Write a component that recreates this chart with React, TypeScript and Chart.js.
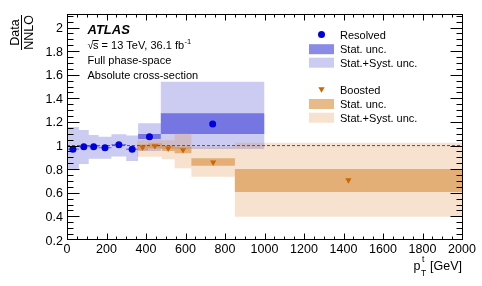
import React, { useEffect, useRef } from "react";
import { Chart, registerables } from "chart.js";

Chart.register(...registerables);

// ---- Data (ratio Data / NNLO) ----
const resolvedBinEdges = [0, 60, 110, 160, 225, 300, 360, 475, 1000];
const resolvedRatio = [0.97, 0.991, 0.991, 0.982, 1.008, 0.969, 1.075, 1.183];
const resolvedStatUp = [0.976, 0.996, 0.996, 0.987, 1.013, 0.975, 1.098, 1.274];
const resolvedStatDown = [0.964, 0.986, 0.986, 0.977, 1.003, 0.963, 1.056, 1.098];
const resolvedTotUp = [1.157, 1.132, 1.09, 1.075, 1.096, 1.085, 1.189, 1.541];
const resolvedTotDown = [0.8, 0.845, 0.888, 0.888, 0.908, 0.87, 0.955, 0.971];

const boostedBinEdges = [355, 410, 480, 545, 630, 850, 2000];
const boostedRatio = [0.985, 0.997, 0.977, 0.963, 0.858, 0.708];
const boostedStatUp = [1.01, 1.02, 1.0, 0.99, 0.892, 0.802];
const boostedStatDown = [0.96, 0.975, 0.955, 0.935, 0.83, 0.607];
const boostedTotUp = [1.045, 1.05, 1.045, 1.104, 0.99, 1.025];
const boostedTotDown = [0.906, 0.906, 0.884, 0.807, 0.737, 0.398];

const referenceLine = [
  { x: 0, y: 1 },
  { x: 2000, y: 1 },
];

const xTickValues = [0, 200, 400, 600, 800, 1000, 1200, 1400, 1600, 1800, 2000];
const xTickLabels = ["0", "200", "400", "600", "800", "1000", "1200", "1400", "1600", "1800", "2000"];
const yTickValues = [0.2, 0.4, 0.6, 0.8, 1.0, 1.2, 1.4, 1.6, 1.8, 2.0];
const yTickLabels = ["0.2", "0.4", "0.6", "0.8", "1", "1.2", "1.4", "1.6", "1.8", "2"];

const legendLabels = ["Resolved", "Stat. unc.", "Stat.+Syst. unc.", "Boosted", "Stat. unc.", "Stat.+Syst. unc."];

// ---- Styles ----
const FONT = '"Liberation Sans", Arial, Helvetica, sans-serif';
const RES_MARK = "#0000dd";
const RES_STAT = "rgba(60,60,215,0.6)";
const RES_TOT = "rgba(100,100,220,0.33)";
const BOO_MARK = "#cc6600";
const BOO_STAT = "rgba(215,140,60,0.6)";
const BOO_TOT = "rgba(220,140,60,0.25)";

function stepPoints(edges: number[], vals: number[]) {
  const pts = vals.map((v, i) => ({ x: edges[i], y: v }));
  pts.push({ x: edges[edges.length - 1], y: vals[vals.length - 1] });
  return pts;
}
function centerPoints(edges: number[], vals: number[]) {
  return vals.map((v, i) => ({ x: (edges[i] + edges[i + 1]) / 2, y: v }));
}

function band(data: any, fill: any, color: string, order: number) {
  return {
    type: "line",
    data,
    stepped: true,
    borderColor: "transparent",
    borderWidth: 0,
    pointRadius: 0,
    fill,
    backgroundColor: color,
    order,
  };
}

const decorPlugin = {
  id: "atlasDecor",
  afterDraw(chart: any) {
    const ctx = chart.ctx as CanvasRenderingContext2D;
    const xs = chart.scales.x;
    const ys = chart.scales.y;
    const { left, right, top, bottom } = chart.chartArea;
    const L = Math.round(left) + 0.5;
    const R = Math.round(right) + 0.5;
    const T = Math.round(top) + 0.5;
    const B = Math.round(bottom) - 0.5;
    ctx.save();
    ctx.strokeStyle = "#000";
    ctx.lineWidth = 1;
    ctx.beginPath();
    // x ticks
    for (let v = 0; v <= 2000 + 1e-6; v += 50) {
      const major = Math.abs(v % 200) < 1e-6;
      const len = major ? 6 : 3;
      const px = Math.round(xs.getPixelForValue(v)) + 0.5;
      ctx.moveTo(px, B);
      ctx.lineTo(px, B - len);
      ctx.moveTo(px, T);
      ctx.lineTo(px, T + len);
    }
    // y ticks
    for (let i = 1; i <= 38; i++) {
      const v = 0.2 + i * 0.05;
      const major = i % 4 === 0;
      const len = major ? 12 : 6;
      const py = Math.round(ys.getPixelForValue(v)) + 0.5;
      if (py >= B - 0.5 || py <= T + 0.5) continue;
      ctx.moveTo(L, py);
      ctx.lineTo(L + len, py);
      ctx.moveTo(R, py);
      ctx.lineTo(R - len, py);
    }
    ctx.stroke();
    ctx.strokeRect(L, T, R - L, B - T);

    // tick labels
    ctx.fillStyle = "#000";
    ctx.font = `12.5px ${FONT}`;
    ctx.textAlign = "right";
    ctx.textBaseline = "alphabetic";
    yTickValues.forEach((v, i) => {
      const py = ys.getPixelForValue(v);
      ctx.fillText(yTickLabels[i], 63, py + 4.5);
    });
    ctx.textAlign = "center";
    xTickValues.forEach((v, i) => {
      const px = xs.getPixelForValue(v);
      ctx.fillText(xTickLabels[i], px, 253);
    });

    // x title p_T^t [GeV]
    ctx.textAlign = "left";
    ctx.font = `12.5px ${FONT}`;
    const gev = " [GeV]";
    const wG = ctx.measureText(gev).width;
    const xG = 462 - wG;
    ctx.fillText(gev, xG, 269.5);
    ctx.font = `8.5px ${FONT}`;
    const wT = ctx.measureText("T").width;
    const xSub = xG - wT - 0.5;
    ctx.fillText("t", xSub + 1, 262);
    ctx.fillText("T", xSub, 276);
    ctx.font = `12.5px ${FONT}`;
    const wp = ctx.measureText("p").width;
    ctx.fillText("p", xSub - wp - 0.5, 269.5);

    // y title Data / NNLO
    ctx.save();
    ctx.translate(21.5, 32.5);
    ctx.rotate(-Math.PI / 2);
    ctx.font = `12.5px ${FONT}`;
    ctx.textAlign = "center";
    ctx.textBaseline = "alphabetic";
    ctx.fillText("Data", 0, -2.5);
    ctx.fillText("NNLO", 0, 11);
    ctx.beginPath();
    ctx.moveTo(-17.5, 0);
    ctx.lineTo(17.5, 0);
    ctx.lineWidth = 1;
    ctx.stroke();
    ctx.restore();

    // ATLAS annotation
    ctx.textAlign = "left";
    ctx.font = `italic bold 13px ${FONT}`;
    ctx.fillText("ATLAS", 87.5, 34.4);
    ctx.font = `11px ${FONT}`;
    const sq = "\u221A";
    ctx.fillText(sq, 87.5, 49);
    const wsq = ctx.measureText(sq).width;
    ctx.fillText("s", 87.5 + wsq - 0.5, 49);
    const ws = ctx.measureText("s").width;
    ctx.beginPath();
    ctx.moveTo(87.5 + wsq - 1, 40.5);
    ctx.lineTo(87.5 + wsq + ws - 0.5, 40.5);
    ctx.stroke();
    const rest = " = 13 TeV, 36.1 fb";
    const xRest = 87.5 + wsq + ws - 0.5;
    ctx.fillText(rest, xRest, 49);
    const wRest = ctx.measureText(rest).width;
    ctx.font = `7.5px ${FONT}`;
    ctx.fillText("-1", xRest + wRest + 0.5, 44);
    ctx.font = `11px ${FONT}`;
    ctx.fillText("Full phase-space", 87.5, 64);
    ctx.fillText("Absolute cross-section", 87.5, 78.5);

    // Legend
    const bx = 309;
    const bw = 25;
    const tx = 340;
    const rows = [34.5, 49.2, 62.7, 89.5, 104, 117.7];
    ctx.font = `11px ${FONT}`;
    ctx.textBaseline = "alphabetic";
    legendLabels.forEach((lab, i) => {
      ctx.fillStyle = "#000";
      ctx.fillText(lab, tx, rows[i] + 4);
    });
    // resolved marker
    ctx.fillStyle = RES_MARK;
    ctx.beginPath();
    ctx.arc(bx + bw / 2, rows[0], 3.5, 0, Math.PI * 2);
    ctx.fill();
    ctx.fillStyle = RES_STAT;
    ctx.fillRect(bx, rows[1] - 5, bw, 10);
    ctx.fillStyle = RES_TOT;
    ctx.fillRect(bx, rows[2] - 5, bw, 10);
    // boosted marker (down triangle)
    const cx = bx + bw / 2;
    const cy = rows[3];
    ctx.fillStyle = BOO_MARK;
    ctx.beginPath();
    ctx.moveTo(cx - 3.1, cy - 2.2);
    ctx.lineTo(cx + 3.1, cy - 2.2);
    ctx.lineTo(cx, cy + 3.2);
    ctx.closePath();
    ctx.fill();
    ctx.fillStyle = BOO_STAT;
    ctx.fillRect(bx, rows[4] - 5, bw, 10);
    ctx.fillStyle = BOO_TOT;
    ctx.fillRect(bx, rows[5] - 5, bw, 10);

    ctx.restore();
  },
};

export default function App() {
  const ref = useRef<HTMLCanvasElement | null>(null);
  useEffect(() => {
    if (!ref.current) return;
    const datasets: any[] = [
      band(stepPoints(resolvedBinEdges, resolvedTotDown), false, RES_TOT, 10),
      band(stepPoints(resolvedBinEdges, resolvedTotUp), "-1", RES_TOT, 10),
      band(stepPoints(resolvedBinEdges, resolvedStatDown), false, RES_STAT, 9),
      band(stepPoints(resolvedBinEdges, resolvedStatUp), "-1", RES_STAT, 9),
      band(stepPoints(boostedBinEdges, boostedTotDown), false, BOO_TOT, 8),
      band(stepPoints(boostedBinEdges, boostedTotUp), "-1", BOO_TOT, 8),
      band(stepPoints(boostedBinEdges, boostedStatDown), false, BOO_STAT, 7),
      band(stepPoints(boostedBinEdges, boostedStatUp), "-1", BOO_STAT, 7),
      {
        type: "line",
        data: referenceLine,
        borderColor: "#555555",
        borderWidth: 1,
        borderDash: [3, 2],
        pointRadius: 0,
        fill: false,
        order: 2,
      },
      {
        type: "line",
        data: centerPoints(resolvedBinEdges, resolvedRatio),
        showLine: false,
        pointStyle: "circle",
        pointRadius: 3.5,
        backgroundColor: RES_MARK,
        borderColor: RES_MARK,
        borderWidth: 0,
        fill: false,
        order: 1,
      },
      {
        type: "line",
        data: centerPoints(boostedBinEdges, boostedRatio),
        showLine: false,
        pointStyle: "triangle",
        rotation: 180,
        pointRadius: 3.6,
        backgroundColor: BOO_MARK,
        borderColor: BOO_MARK,
        borderWidth: 0,
        fill: false,
        order: 0,
      },
    ];
    const chart = new Chart(ref.current, {
      type: "line",
      data: { datasets },
      options: {
        responsive: false,
        animation: false,
        devicePixelRatio: 1,
        layout: { padding: { left: 67, right: 20, top: 14, bottom: 46 } },
        scales: {
          x: { type: "linear", min: 0, max: 2000, display: false },
          y: { type: "linear", min: 0.2, max: 2.115, display: false },
        },
        plugins: {
          legend: { display: false },
          tooltip: { enabled: false },
        },
      },
      plugins: [decorPlugin],
    } as any);
    return () => chart.destroy();
  }, []);
  return (
    <div style={{ position: "fixed", left: 0, top: 0, width: 482, height: 286, background: "#fff" }}>
      <canvas ref={ref} width={482} height={286} style={{ display: "block" }} />
    </div>
  );
}
